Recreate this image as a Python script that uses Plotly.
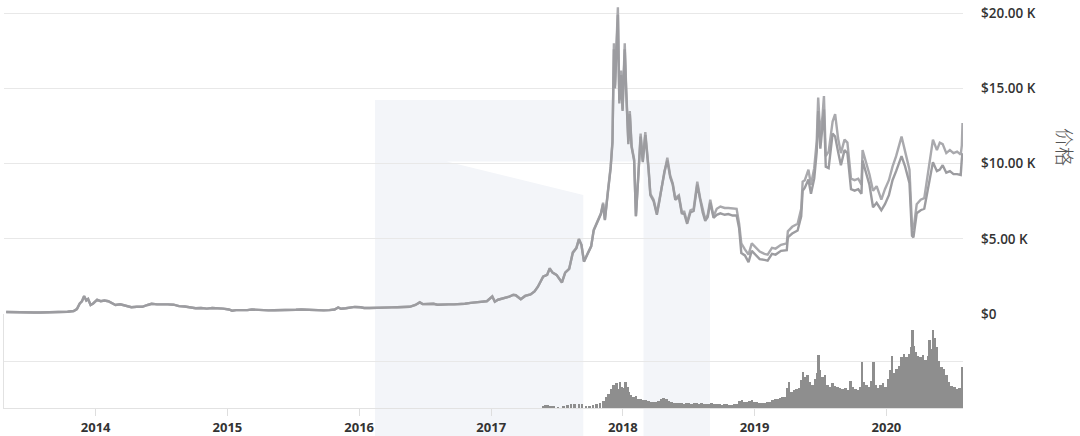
import plotly.graph_objects as go

# ---------------- data ----------------
price_dates = [
    "2013-04-28", "2013-05-15", "2013-06-01", "2013-06-15", "2013-07-01", "2013-07-15", "2013-08-01",
    "2013-08-15", "2013-09-01", "2013-09-15", "2013-10-01", "2013-10-15", "2013-11-01", "2013-11-10",
    "2013-11-18", "2013-11-24", "2013-11-30", "2013-12-06", "2013-12-11", "2013-12-18", "2013-12-25",
    "2014-01-05", "2014-01-15", "2014-01-25", "2014-02-05", "2014-02-15", "2014-02-25", "2014-03-10",
    "2014-03-25", "2014-04-10", "2014-04-25", "2014-05-10", "2014-05-25", "2014-06-05", "2014-06-20",
    "2014-07-05", "2014-07-20", "2014-08-05", "2014-08-20", "2014-09-05", "2014-09-20", "2014-10-05",
    "2014-10-20", "2014-11-05", "2014-11-20", "2014-12-05", "2014-12-20",
    "2015-01-05", "2015-01-14", "2015-01-25", "2015-02-10", "2015-02-25", "2015-03-10", "2015-03-25",
    "2015-04-10", "2015-04-25", "2015-05-10", "2015-05-25", "2015-06-10", "2015-06-25", "2015-07-10",
    "2015-07-25", "2015-08-10", "2015-08-25", "2015-09-10", "2015-09-25", "2015-10-10", "2015-10-25",
    "2015-11-04", "2015-11-12", "2015-11-25", "2015-12-05", "2015-12-20",
    "2016-01-05", "2016-01-15", "2016-01-30", "2016-02-15", "2016-03-01", "2016-03-15", "2016-04-01",
    "2016-04-15", "2016-05-01", "2016-05-20", "2016-06-05", "2016-06-17", "2016-06-25", "2016-07-10",
    "2016-07-25", "2016-08-05", "2016-08-20", "2016-09-05", "2016-09-20", "2016-10-05", "2016-10-20",
    "2016-11-05", "2016-11-20", "2016-12-05", "2016-12-20",
    "2017-01-04", "2017-01-11", "2017-01-20", "2017-02-05", "2017-02-20", "2017-03-03", "2017-03-10",
    "2017-03-24", "2017-04-05", "2017-04-20", "2017-05-01", "2017-05-10", "2017-05-25", "2017-06-05",
    "2017-06-12", "2017-06-20", "2017-07-01", "2017-07-16", "2017-07-25", "2017-08-05", "2017-08-15",
    "2017-08-25", "2017-09-01", "2017-09-08", "2017-09-15", "2017-09-25", "2017-10-05", "2017-10-12",
    "2017-10-20", "2017-11-01", "2017-11-07", "2017-11-12", "2017-11-20", "2017-11-28", "2017-12-03",
    "2017-12-07", "2017-12-10", "2017-12-13", "2017-12-18", "2017-12-22", "2017-12-27", "2017-12-31",
    "2018-01-06", "2018-01-10", "2018-01-16", "2018-01-20", "2018-01-25", "2018-02-01", "2018-02-06",
    "2018-02-12", "2018-02-19", "2018-02-25", "2018-03-04", "2018-03-13", "2018-03-18", "2018-03-27",
    "2018-04-05", "2018-04-12", "2018-04-19", "2018-04-26", "2018-05-04", "2018-05-12", "2018-05-19",
    "2018-05-26", "2018-06-05", "2018-06-13", "2018-06-20", "2018-06-28", "2018-07-07", "2018-07-16",
    "2018-07-26", "2018-08-03", "2018-08-10", "2018-08-17", "2018-08-24", "2018-08-31", "2018-09-09",
    "2018-09-18", "2018-09-28", "2018-10-10", "2018-10-20", "2018-11-01", "2018-11-12", "2018-11-19",
    "2018-11-25", "2018-12-05", "2018-12-15", "2018-12-24",
    "2019-01-05", "2019-01-15", "2019-01-28", "2019-02-06", "2019-02-18", "2019-02-28", "2019-03-15",
    "2019-03-31", "2019-04-03", "2019-04-15", "2019-04-30", "2019-05-10", "2019-05-14", "2019-05-20",
    "2019-05-30", "2019-06-06", "2019-06-15", "2019-06-22", "2019-06-26", "2019-07-02", "2019-07-08",
    "2019-07-12", "2019-07-17", "2019-07-25", "2019-08-05", "2019-08-12", "2019-08-20", "2019-08-28",
    "2019-09-07", "2019-09-15", "2019-09-25", "2019-10-05", "2019-10-15", "2019-10-24", "2019-10-27",
    "2019-11-05", "2019-11-15", "2019-11-25", "2019-12-05", "2019-12-18", "2019-12-28",
    "2020-01-08", "2020-01-18", "2020-01-28", "2020-02-12", "2020-02-22", "2020-03-05", "2020-03-12",
    "2020-03-16", "2020-03-25", "2020-04-05", "2020-04-15", "2020-04-30", "2020-05-09", "2020-05-20",
    "2020-05-28", "2020-06-05", "2020-06-15", "2020-06-25", "2020-07-05", "2020-07-15", "2020-07-25",
    "2020-07-28", "2020-07-30",
]

price_upper = [
    135, 120, 125, 100, 90, 95, 100,
    110, 130, 130, 125, 150, 200, 330,
    700, 850, 1200, 900, 1000, 600, 700,
    950, 850, 900, 850, 700, 600, 650,
    550, 450, 480, 480, 600, 680, 640,
    650, 640, 620, 520, 500, 430, 380,
    400, 360, 400, 400, 360,
    300, 220, 260, 240, 260, 300, 270,
    250, 240, 250, 250, 240, 250, 280,
    300, 280, 240, 240, 240, 260, 300,
    440, 350, 380, 420, 470,
    450, 400, 400, 420, 450, 430, 440,
    450, 470, 480, 600, 780, 660, 680,
    680, 620, 610, 640, 640, 640, 680,
    740, 780, 800, 850,
    1180, 820, 950, 1050, 1150, 1280, 1250,
    980, 1200, 1300, 1500, 1800, 2500, 2600,
    3050, 2750, 2600, 2100, 2750, 3000, 4100,
    4400, 5000, 4600, 3500, 4000, 4500, 5600,
    6000, 6700, 7400, 6300, 8100, 9800, 11500,
    18000, 15200, 17000, 20400, 14200, 16200, 13600,
    18000, 15000, 11500, 13500, 11200, 10300, 6500,
    9000, 12000, 10200, 12100, 9700, 8000, 7600,
    6700, 7600, 8500, 9600, 10400, 9200, 8700,
    7700, 7900, 6800, 6800, 6100, 6900, 7000,
    8800, 7700, 6900, 6300, 6600, 7600, 6500,
    7000, 7150, 7050, 7050, 7000, 7000, 6000,
    4700, 4300, 3950, 4700,
    4400, 4150, 4000, 3950, 4400, 4350, 4600,
    4700, 5500, 5800, 6000, 7000, 8800, 8900,
    9600, 8600, 9700, 11500, 14400, 11800, 13200,
    14500, 10500, 10800, 12800, 13300, 11700, 10700,
    11600, 11400, 9000, 8900, 9000, 8600, 10900,
    10200, 9300, 8200, 8500, 7600, 8300,
    8900, 9800, 10500, 11800, 10800, 9600, 5800,
    5600, 7300, 7600, 7700, 10000, 11600, 10900,
    11400, 11300, 10700, 10900, 10700, 10800, 10600,
    11200, 12700,
]

price_lower = [
    135, 120, 125, 100, 90, 95, 100,
    110, 130, 130, 125, 150, 200, 330,
    700, 850, 1180, 900, 1000, 600, 700,
    940, 850, 900, 850, 700, 600, 650,
    550, 450, 480, 480, 600, 680, 640,
    650, 640, 620, 520, 500, 430, 380,
    400, 360, 400, 400, 360,
    300, 220, 260, 240, 260, 300, 270,
    250, 240, 250, 250, 240, 250, 280,
    300, 280, 240, 240, 240, 260, 300,
    430, 350, 380, 420, 470,
    450, 400, 400, 420, 450, 430, 440,
    450, 470, 480, 600, 770, 660, 680,
    680, 620, 610, 640, 640, 640, 680,
    740, 780, 800, 850,
    1160, 820, 950, 1050, 1150, 1270, 1250,
    980, 1200, 1300, 1500, 1800, 2480, 2600,
    3020, 2750, 2600, 2100, 2750, 3000, 4050,
    4380, 4950, 4600, 3480, 4000, 4500, 5550,
    5950, 6650, 7300, 6250, 8000, 9700, 11400,
    17600, 15000, 16800, 19900, 14000, 15900, 13500,
    17600, 14800, 11300, 13300, 11100, 10200, 6500,
    8900, 11800, 10100, 11900, 9600, 7900, 7500,
    6600, 7500, 8400, 9500, 10200, 9100, 8600,
    7600, 7800, 6700, 6650, 6000, 6750, 6850,
    8600, 7550, 6750, 6200, 6450, 7400, 6400,
    6600, 6700, 6600, 6650, 6550, 6550, 5700,
    4050, 3900, 3450, 4200,
    3900, 3650, 3600, 3550, 4000, 3950, 4200,
    4250, 5100, 5350, 5550, 6500, 8200, 8400,
    8950, 8000, 9000, 10800, 13500, 11000, 12500,
    13600, 9800, 9700, 12000, 11800, 10800, 9900,
    10900, 10700, 8300, 8200, 8300, 8000, 10200,
    9400, 8600, 7100, 7400, 6900, 7300,
    7900, 8900, 9500, 10500, 9800, 8700, 5200,
    5100, 6700, 6900, 7000, 8900, 10100, 9500,
    9600, 9900, 9400, 9500, 9300, 9300, 9250,
    10300, 10700,
]

volume_dates = [
    "2017-05-25", "2017-06-01", "2017-06-08", "2017-06-15", "2017-06-22", "2017-07-05", "2017-07-20",
    "2017-08-01", "2017-08-10", "2017-08-20", "2017-09-01", "2017-09-10", "2017-09-20", "2017-10-01",
    "2017-10-10", "2017-10-20", "2017-10-30", "2017-11-08", "2017-11-15", "2017-11-22", "2017-11-29",
    "2017-12-06", "2017-12-10", "2017-12-14", "2017-12-19", "2017-12-24", "2017-12-29",
    "2018-01-03", "2018-01-08", "2018-01-13", "2018-01-18", "2018-01-23", "2018-01-30", "2018-02-06",
    "2018-02-13", "2018-02-20", "2018-02-27", "2018-03-06", "2018-03-13", "2018-03-20", "2018-03-27",
    "2018-04-03", "2018-04-10", "2018-04-17", "2018-04-24", "2018-05-01", "2018-05-08", "2018-05-15",
    "2018-05-22", "2018-05-29", "2018-06-05", "2018-06-12", "2018-06-19", "2018-06-26", "2018-07-03",
    "2018-07-10", "2018-07-17", "2018-07-24", "2018-07-31", "2018-08-07", "2018-08-14", "2018-08-21",
    "2018-08-28", "2018-09-04", "2018-09-11", "2018-09-18", "2018-09-25", "2018-10-02", "2018-10-09",
    "2018-10-16", "2018-10-23", "2018-10-30", "2018-11-06", "2018-11-13", "2018-11-20", "2018-11-27",
    "2018-12-04", "2018-12-11", "2018-12-18", "2018-12-25",
    "2019-01-01", "2019-01-08", "2019-01-15", "2019-01-22", "2019-01-29", "2019-02-05", "2019-02-12",
    "2019-02-19", "2019-02-26", "2019-03-05", "2019-03-12", "2019-03-19", "2019-03-26", "2019-04-02",
    "2019-04-06", "2019-04-13", "2019-04-20", "2019-04-27", "2019-05-04", "2019-05-11", "2019-05-15",
    "2019-05-20", "2019-05-27", "2019-06-03", "2019-06-10", "2019-06-17", "2019-06-24", "2019-06-27",
    "2019-07-01", "2019-07-08", "2019-07-15", "2019-07-22", "2019-07-29", "2019-08-05", "2019-08-12",
    "2019-08-19", "2019-08-26", "2019-09-02", "2019-09-09", "2019-09-16", "2019-09-23", "2019-09-30",
    "2019-10-07", "2019-10-14", "2019-10-21", "2019-10-26", "2019-10-31", "2019-11-07", "2019-11-14",
    "2019-11-21", "2019-11-26", "2019-12-02", "2019-12-09", "2019-12-16", "2019-12-23", "2019-12-30",
    "2020-01-06", "2020-01-13", "2020-01-16", "2020-01-22", "2020-01-29", "2020-02-05", "2020-02-12",
    "2020-02-19", "2020-02-26", "2020-03-04", "2020-03-09", "2020-03-13", "2020-03-17", "2020-03-22",
    "2020-03-29", "2020-04-05", "2020-04-12", "2020-04-19", "2020-04-26", "2020-04-30", "2020-05-05",
    "2020-05-09", "2020-05-13", "2020-05-19", "2020-05-26", "2020-06-02", "2020-06-09", "2020-06-16",
    "2020-06-23", "2020-06-30", "2020-07-07", "2020-07-14", "2020-07-21", "2020-07-28",
]

# volume in billions of USD
volume_values = [
    2, 2.5, 2.5, 2, 1.5, 0.5, 1,
    2.5, 3, 3, 3.5, 3, 1, 2,
    2.5, 3, 4, 6, 9, 12, 16,
    20, 14, 21, 16, 22, 18,
    17, 22, 18, 14, 11, 9, 10,
    8, 8, 7, 6.5, 6, 5, 5.5,
    5, 6, 8, 8.5, 7.5, 6, 5,
    4.5, 4, 4.5, 4, 3.5, 4, 4,
    3.5, 4.5, 4, 3.5, 4, 3.5, 3,
    3.5, 4, 3, 3, 3, 2.8, 3,
    3, 2.6, 2.8, 3, 3.5, 6, 6.5,
    5.5, 5, 6, 7,
    5.5, 5, 4.5, 4.5, 4.5, 5, 5,
    7, 7.5, 8, 8.5, 9, 9.5, 17,
    22, 14, 15, 16, 17, 24, 31,
    26, 28, 22, 20, 25, 30, 45,
    32, 26, 28, 20, 18, 21, 19,
    18, 17, 16, 17, 15, 23, 18,
    16, 15, 18, 39, 22, 20, 18,
    23, 39, 20, 17, 20, 21, 18,
    25, 32, 44, 30, 33, 36, 43,
    46, 43, 46, 52, 66, 53, 48,
    44, 43, 45, 41, 44, 58, 50,
    66, 60, 52, 40, 35, 33, 28,
    22, 19, 18, 16, 17, 35,
]

price_tick_values = [0, 5000, 10000, 15000, 20000]
price_tick_labels = ["$0", "$5.00 K", "$10.00 K", "$15.00 K", "$20.00 K"]
year_ticks = ["2014-01-01", "2015-01-01", "2016-01-01", "2017-01-01",
              "2018-01-01", "2019-01-01", "2020-01-01"]
axis_title = "价格"

# ---------------- figure ----------------
W, H = 1080, 436
ML, MR, MT, MB = 4, 117, 0, 28
PW, PH = W - ML - MR, H - MT - MB


def px_x(x):
    return (x - ML) / PW


def px_y(y):
    return (H - MB - y) / PH


split = px_y(314)

fig = go.Figure()

fig.add_trace(go.Bar(
    x=volume_dates, y=volume_values, xaxis="x", yaxis="y2",
    marker=dict(color="#8e8e8e", line=dict(width=0)),
    width=7 * 24 * 3600 * 1000, showlegend=False, hoverinfo="x+y",
))

fig.add_trace(go.Scatter(
    x=price_dates, y=price_upper, mode="lines", xaxis="x", yaxis="y",
    line=dict(color="#a9a9ad", width=2.4), showlegend=False,
))
fig.add_trace(go.Scatter(
    x=price_dates, y=price_lower, mode="lines", xaxis="x", yaxis="y",
    line=dict(color="#9c9ca0", width=2.4), showlegend=False,
))

shade = "#f3f5f9"
fig.add_shape(type="rect", xref="paper", yref="paper",
              x0=px_x(375), x1=px_x(710), y0=px_y(436), y1=px_y(100),
              fillcolor=shade, line=dict(width=0), layer="below")
path = "M {a},{b} L {c},{b} L {c},{d} L {e},{d} L {e},{f} Z".format(
    a=px_x(446.7), b=px_y(161.5), c=px_x(643.5), d=px_y(437), e=px_x(583.3), f=px_y(195))
fig.add_shape(type="path", xref="paper", yref="paper", path=path,
              fillcolor="#ffffff", line=dict(width=0), layer="below")

fig.add_annotation(text=axis_title, xref="paper", yref="paper",
                   x=px_x(1066), y=px_y(147), xanchor="center", yanchor="middle",
                   textangle=90, showarrow=False,
                   font=dict(family="Noto Sans CJK SC", size=19, color="#555555", weight=300))

fig.update_layout(
    width=W, height=H,
    margin=dict(l=ML, r=MR, t=MT, b=MB, autoexpand=False),
    paper_bgcolor="#ffffff", plot_bgcolor="rgba(0,0,0,0)",
    bargap=0, hovermode="x",
    xaxis=dict(
        type="date", anchor="y2", domain=[0, 1], automargin=False,
        range=["2013-04-22", "2020-07-31 07:00"],
        tickvals=year_ticks, tickformat="%Y",
        ticks="outside", ticklen=7, tickcolor="#dedede", tickwidth=1,
        showline=True, linecolor="#e2e2e2", linewidth=1,
        showgrid=False, zeroline=False,
        tickfont=dict(family="Open Sans", size=13, color="#333333", weight=700),
    ),
    yaxis=dict(
        domain=[split, 1], anchor="x", side="right", automargin=False,
        range=[0, 314 * 20000 / (314 - 13.3)],
        tickvals=price_tick_values, ticktext=price_tick_labels,
        showgrid=True, gridcolor="#e8e8e8", gridwidth=1,
        zeroline=False, showline=False, ticks="",
        ticklabelstandoff=17,
        tickfont=dict(family="Open Sans", size=13.5, color="#333333", weight=600),
    ),
    yaxis2=dict(
        domain=[0, split], anchor="x", side="left", automargin=False,
        range=[0, 80], dtick=40, showticklabels=False,
        showgrid=True, gridcolor="#e8e8e8", gridwidth=1,
        zeroline=False, showline=True, linecolor="#e2e2e2", linewidth=1, ticks="",
    ),
)

fig.write_html("out.html", config={"displayModeBar": False},
               post_script="document.body.style.margin='0px';document.body.style.padding='0px';")
